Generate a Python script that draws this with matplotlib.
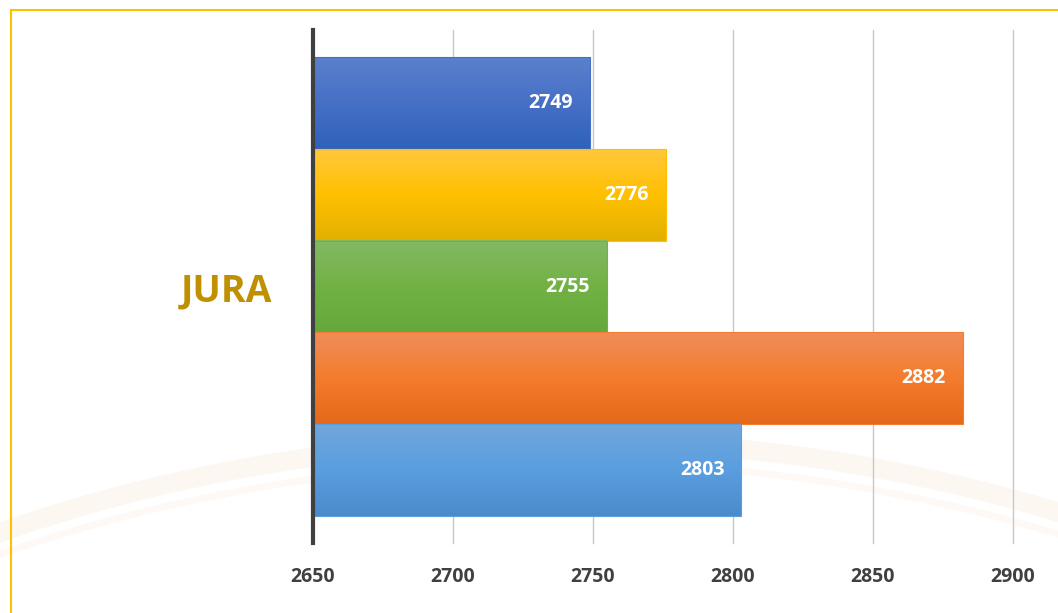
import numpy as np
import matplotlib
matplotlib.use("Agg")
import matplotlib.pyplot as plt
from matplotlib.colors import LinearSegmentedColormap
from matplotlib.patches import Rectangle

plt.rcParams['font.family'] = ['Open Sans', 'DejaVu Sans']
plt.rcParams['font.weight'] = 'bold'

# ── Data ───────────────────────────────────────────────────────────────────────
categories = ["JURA"]
values     = [2749, 2776, 2755, 2882, 2803]
xmin, xmax = 2650, 2900
xticks     = [2650, 2700, 2750, 2800, 2850, 2900]

# gradient (top, mid, bottom) per bar
grads = [
    ("#5b80cc", "#4670c6", "#2f62bb"),
    ("#ffc83c", "#ffc000", "#e2b000"),
    ("#82b965", "#72b244", "#65a83b"),
    ("#f08d5a", "#f47c2c", "#e5691a"),
    ("#70a7dc", "#5a9edf", "#4a8bcb"),
]

W, H = 1058, 613
fig = plt.figure(figsize=(W/100, H/100), dpi=100)
fig.patch.set_facecolor("white")

# ── faint background swoosh ────────────────────────────────────────────────────
bg = fig.add_axes([0, 0, 1, 1], zorder=0)
bg.set_xlim(0, W); bg.set_ylim(H, 0); bg.axis("off")
t = np.linspace(np.pi*1.05, np.pi*1.95, 300)
for cy, a, b, lw, al in [(1240, 1200, 800, 14, 0.08), (1262, 1200, 800, 5, 0.06)]:
    bg.plot(560 + a*np.cos(t), cy + b*np.sin(t), color="#f29a60", lw=lw,
            alpha=al, solid_capstyle="round")
# yellow border
fig.patches.append(Rectangle((11/W, -0.01), 1.0, 1 - 10/H + 0.01, transform=fig.transFigure,
                             fill=False, edgecolor="#ffc000", lw=1.5, zorder=1))

# ── Bars ───────────────────────────────────────────────────────────────────────
ax = fig.add_axes([313/W, 1 - 543/H, 700/W, 513/H], zorder=2)
ax.set_facecolor("none")

n = len(values)
ypos = np.arange(n)[::-1].astype(float)
h = 1.0
bars = ax.barh(ypos, [v - xmin for v in values], left=xmin, height=h,
               color="none", edgecolor="none", zorder=3)
for bar, (c0, c1, c2) in zip(bars, grads):
    cmap = LinearSegmentedColormap.from_list("g", [c0, c1, c2])
    grad = np.linspace(0, 1, 100).reshape(-1, 1)
    x0, y0 = bar.get_x(), bar.get_y()
    ax.imshow(grad, cmap=cmap, aspect="auto", origin="upper", zorder=3,
              extent=(x0, x0 + bar.get_width(), y0, y0 + bar.get_height()))
    ax.add_patch(Rectangle((x0, y0), bar.get_width(), bar.get_height(),
                           fill=False, edgecolor=c1, lw=0.8, zorder=3.5))
    ax.annotate(f"{bar.get_x() + bar.get_width():.0f}",
                (x0 + bar.get_width(), y0 + h/2), xytext=(-17, 0),
                textcoords="offset pixels", ha="right", va="center",
                color="white", fontsize=14, fontweight="bold", zorder=4)

ax.set_xlim(xmin, xmax)
ax.set_ylim(-0.5 - 0.3, n - 0.5 + 0.3)
ax.set_xticks(xticks)
ax.set_xticklabels([str(x) for x in xticks])
ax.xaxis.grid(True, color="#c8c8c8", lw=1)
for gl in ax.get_xgridlines():
    gl.set_clip_on(False)
ax.set_axisbelow(True)
ax.tick_params(axis="x", length=0, pad=17, labelsize=14, labelcolor="#404040")

ax.set_yticks([(n - 1) / 2])
ax.set_yticklabels(categories)
ax.tick_params(axis="y", length=0, pad=29, labelsize=27, labelcolor="#bf9000")

for s in ("top", "right", "bottom"):
    ax.spines[s].set_visible(False)
ax.spines["left"].set_color("#404040")
ax.spines["left"].set_linewidth(3)
ax.spines["left"].set_zorder(5)

fig.savefig("out.png", dpi=100, facecolor=fig.get_facecolor())
